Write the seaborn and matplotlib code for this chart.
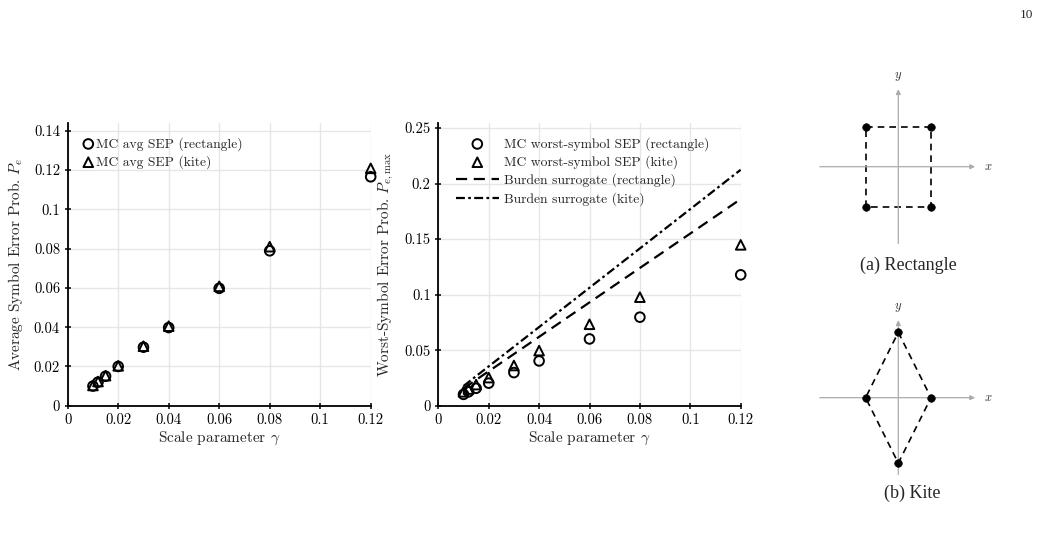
import numpy as np
import pandas as pd
import seaborn as sns
import matplotlib.pyplot as plt

# data
gamma = [0.01, 0.012, 0.015, 0.02, 0.03, 0.04, 0.06, 0.08, 0.12]
avg_rect = [0.0100, 0.0120, 0.0150, 0.0200, 0.0298, 0.0398, 0.0598, 0.0789, 0.1166]
avg_kite = [0.0103, 0.0123, 0.0153, 0.0203, 0.0303, 0.0405, 0.0608, 0.0810, 0.1209]
worst_rect = [0.0102, 0.0125, 0.0157, 0.0203, 0.0298, 0.0403, 0.0601, 0.0797, 0.1178]
worst_kite = [0.0125, 0.0150, 0.0190, 0.0253, 0.0362, 0.0496, 0.0733, 0.0977, 0.1448]
burden_rect = [0.0155, 0.0186, 0.0233, 0.0310, 0.0465, 0.0620, 0.0930, 0.1240, 0.1860]
burden_kite = [0.0177, 0.0212, 0.0266, 0.0354, 0.0531, 0.0708, 0.1062, 0.1416, 0.2124]

xticks = [0, 0.02, 0.04, 0.06, 0.08, 0.1, 0.12]
xtick_labels = ["0", "0.02", "0.04", "0.06", "0.08", "0.1", "0.12"]
yticks_avg = [0, 0.02, 0.04, 0.06, 0.08, 0.1, 0.12, 0.14]
ytick_labels_avg = ["0", "0.02", "0.04", "0.06", "0.08", "0.1", "0.12", "0.14"]
yticks_worst = [0, 0.05, 0.1, 0.15, 0.2, 0.25]
ytick_labels_worst = ["0", "0.05", "0.1", "0.15", "0.2", "0.25"]

# constellation sketches (unit = half-width)
rect_x = [-1, 1, 1, -1]
rect_y = [1.22, 1.22, -1.22, -1.22]
kite_x = [0, 1, 0, -1]
kite_y = [2, 0, -2, 0]

sns.set_theme(style="ticks")
plt.rcParams['font.family'] = ['serif']
plt.rcParams['font.serif'] = ['cmr10', 'DejaVu Serif']
plt.rcParams['mathtext.fontset'] = 'cm'
plt.rcParams['axes.unicode_minus'] = False
plt.rcParams['axes.formatter.use_mathtext'] = True

W, H = 1039, 533
fig = plt.figure(figsize=(W / 100, H / 100), dpi=100)


def px_axes(x0, y0, x1, y1):
    # axes from pixel box (top-left origin)
    return fig.add_axes([x0 / W, 1 - y1 / H, (x1 - x0) / W, (y1 - y0) / H])


def style_axes(ax, yticks, ylabels, ylim):
    ax.set_xlim(0, 0.12)
    ax.set_ylim(*ylim)
    ax.set_xticks(xticks)
    ax.set_xticklabels(xtick_labels)
    ax.set_yticks(yticks)
    ax.set_yticklabels(ylabels)
    ax.grid(True, color='#e6e6e6', linewidth=1.0)
    ax.set_axisbelow(True)
    for s in ['top', 'right']:
        ax.spines[s].set_visible(False)
    for s in ['left', 'bottom']:
        ax.spines[s].set_linewidth(1.3)
        ax.spines[s].set_color('black')
    ax.tick_params(direction='inout', length=5, width=1.1, labelsize=10.5, colors='black', pad=3)
    ax.set_xlabel(r"Scale parameter $\gamma$", fontsize=11, labelpad=2)


mk = dict(s=48, facecolors='none', edgecolors='black', linewidth=1.4, zorder=3)

# ---- left: average SEP
ax1 = px_axes(67.7, 123, 370.7, 405.7)
sns.scatterplot(x=gamma, y=avg_rect, marker='o', label='MC avg SEP (rectangle)', ax=ax1, **mk)
sns.scatterplot(x=gamma, y=avg_kite, marker='^', label='MC avg SEP (kite)', ax=ax1, **mk)
style_axes(ax1, yticks_avg, ytick_labels_avg, (0, 0.144))
ax1.set_ylabel(r"Average Symbol Error Prob. $P_e$", fontsize=11, labelpad=6)
for c in ax1.collections:
    c.set_clip_on(False)
ax1.legend(loc='upper left', bbox_to_anchor=(0.05, 0.95), frameon=False, fontsize=9.8,
           handlelength=0.8, handletextpad=0.2, borderpad=0, labelspacing=0.33, borderaxespad=0)

# ---- right: worst-symbol SEP
ax2 = px_axes(438.3, 123, 740.7, 405.7)
sns.scatterplot(x=gamma, y=worst_rect, marker='o', label='MC worst-symbol SEP (rectangle)', ax=ax2, **mk)
sns.scatterplot(x=gamma, y=worst_kite, marker='^', label='MC worst-symbol SEP (kite)', ax=ax2, **mk)
sns.lineplot(x=gamma, y=burden_rect, color='black', linewidth=1.6, linestyle=(0, (5, 3)),
             label='Burden surrogate (rectangle)', ax=ax2)
sns.lineplot(x=gamma, y=burden_kite, color='black', linewidth=1.6, linestyle=(0, (4, 1.5, 1.2, 1.5)),
             label='Burden surrogate (kite)', ax=ax2)
style_axes(ax2, yticks_worst, ytick_labels_worst, (0, 0.2545))
ax2.set_ylabel(r"Worst-Symbol Error Prob. $P_{e,\max}$", fontsize=11, labelpad=6)
for c in ax2.collections:
    c.set_clip_on(False)
ax2.legend(loc='upper left', bbox_to_anchor=(0.057, 0.95), frameon=False, fontsize=9.8,
           handlelength=3.2, handletextpad=0.35, borderpad=0, labelspacing=0.33, borderaxespad=0)


# ---- constellation sketches
def sketch(ax, xs, ys):
    ax.set_xlim(-3, 3)
    ax.set_ylim(-3, 3)
    ax.axis('off')
    arrow = dict(arrowstyle='-|>', color='#ababab', lw=0.9, mutation_scale=7, shrinkA=0, shrinkB=0)
    ax.annotate('', xy=(2.35, 0), xytext=(-2.4, 0), arrowprops=arrow)
    ax.annotate('', xy=(0, 2.37), xytext=(0, -2.35), arrowprops=arrow)
    ax.text(2.62, 0, r"$x$", fontsize=9, ha='left', va='center', color='#333333')
    ax.text(0, 2.75, r"$y$", fontsize=9, ha='center', va='center', color='#333333')
    df = pd.DataFrame({'x': xs + xs[:1], 'y': ys + ys[:1]})
    sns.lineplot(data=df, x='x', y='y', sort=False, estimator=None, color='black',
                 linewidth=1.2, linestyle=(0, (4, 3)), ax=ax)
    sns.scatterplot(x=xs, y=ys, color='black', s=30, edgecolor='black', zorder=4, ax=ax)
    ax.set_xlabel('')
    ax.set_ylabel('')


u = 32.7
axr = px_axes(898.3 - 3 * u, 166.7 - 3 * u, 898.3 + 3 * u, 166.7 + 3 * u)
sketch(axr, rect_x, rect_y)
axk = px_axes(898.3 - 3 * u, 397.7 - 3 * u, 898.3 + 3 * u, 397.7 + 3 * u)
sketch(axk, kite_x, kite_y)

fig.text(908.5 / W, 1 - 265 / H, "(a) Rectangle", family='Liberation Serif', fontsize=13,
         ha='center', va='center')
fig.text(912 / W, 1 - 493 / H, "(b) Kite", family='Liberation Serif', fontsize=13,
         ha='center', va='center')
fig.text(1033 / W, 1 - 15 / H, "10", family='Liberation Serif', fontsize=9.5,
         ha='right', va='center')

fig.savefig("out.png", dpi=100)
